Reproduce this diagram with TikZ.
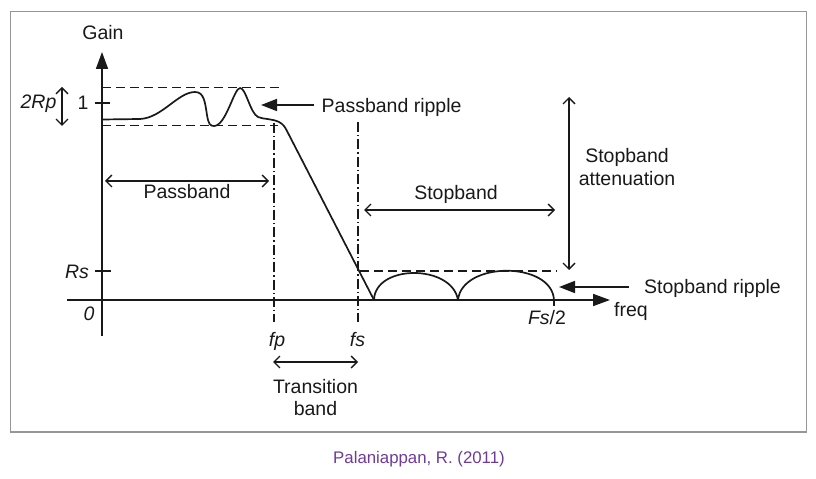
\documentclass[tikz,border=0pt]{standalone}
\usepackage{fontspec}
\setmainfont{Liberation Sans}
\usetikzlibrary{arrows.meta}
\definecolor{capcol}{RGB}{112,58,152}
\definecolor{framecol}{RGB}{150,150,150}
\definecolor{ink}{RGB}{25,25,25}
\begin{document}
\begin{tikzpicture}[x=1bp,y=-1bp,
  every node/.style={inner sep=0pt, text=ink, font=\fontsize{19.5bp}{22.5bp}\selectfont},
  axisline/.style={draw=ink, line width=1.7bp, -{Triangle[length=17bp,width=12bp]}},
  ptr/.style={draw=ink, line width=1.7bp, -{Triangle[length=16bp,width=12bp]}},
  dbl/.style={draw=ink, line width=1.4bp, {Straight Barb[length=6bp,width=12bp]}-{Straight Barb[length=6bp,width=12bp]}},
  dsh/.style={draw=ink, line width=1.7bp, dash pattern=on 9bp off 5bp},
  ddot/.style={draw=ink, line width=1.4bp, dash pattern=on 10bp off 3bp on 1.4bp off 3bp},
  curve/.style={draw=ink, line width=1.7bp, line join=round},
  tick/.style={draw=ink, line width=1.6bp},
  lbl/.style={anchor=base}
]
\useasboundingbox (0,0) rectangle (816,479);
\draw[framecol, line width=1.5bp] (10.5,11.5) rectangle (806.5,432);

% axes
\coordinate (yb) at (102,336); \coordinate (yt) at (102,52);
\coordinate (xl) at (67,300);  \coordinate (xr) at (610,300);
\draw[axisline] (yb) -- (yt);
\draw[axisline] (xl) -- (xr);
\node[lbl] (gain) at (103,39.5) {Gain};
\node[anchor=base west] (freq) at (614,317) {freq};
\node[lbl] (zero) at (89,320.5) {\itshape 0};

% ticks
\coordinate (t1a) at (95,103); \coordinate (t1b) at (110,103);
\draw[tick] (t1a) -- (t1b);
\node[lbl] (one) at (83,109.5) {1};
\coordinate (tra) at (95,271); \coordinate (trb) at (111,271);
\draw[tick] (tra) -- (trb);
\node[lbl] (rs) at (77,278.3) {\itshape Rs};
\coordinate (tfa) at (554,300); \coordinate (tfb) at (554,306);
\draw[tick] (tfa) -- (tfb);
\node[lbl] (fs2) at (547,325) {\itshape Fs\/\upshape/2};

% 2Rp
\coordinate (rpa) at (62,87); \coordinate (rpb) at (62,126);
\draw[dbl] (rpa) -- (rpb);
\node[lbl] (tworp) at (38.5,108.5) {\itshape 2Rp};

% dashed ripple bounds
\coordinate (d1a) at (102,87.5); \coordinate (d1b) at (281,87.5);
\draw[dsh] (d1a) -- (d1b);
\coordinate (d2a) at (102,125.5); \coordinate (d2b) at (278,125.5);
\draw[dsh] (d2a) -- (d2b);
\coordinate (d3a) at (360,271); \coordinate (d3b) at (557,271);
\draw[dsh] (d3a) -- (d3b);

% fp and fs lines
\coordinate (fpa) at (274,123); \coordinate (fpb) at (274,322);
\draw[ddot] (fpa) -- (fpb);
\coordinate (fsa) at (358,122); \coordinate (fsb) at (358,322);
\draw[ddot] (fsa) -- (fsb);
\node[lbl] (fp) at (277,346.5) {\itshape fp};
\node[lbl] (fs) at (357.5,346.5) {\itshape fs};

% response curve
\draw[curve] (102,119.5) -- (140,119)
  .. controls (162,118) and (178,92) .. (195,92)
  .. controls (204,92) and (205,102) .. (207,115)
  .. controls (208.5,124) and (210,126) .. (214,126)
  .. controls (226,126) and (234,88) .. (240,88)
  .. controls (246,88) and (250,113) .. (258,117)
  .. controls (264,119.5) and (272,118.5) .. (279,122)
  .. controls (283,124) and (285,127) .. (287,131)
  -- (374,300);
\draw[curve] (374,300) .. controls (375,264) and (452,264) .. (458,300)
  .. controls (462,261) and (552,261) .. (554,300);

% band arrows
\coordinate (pba) at (105,181); \coordinate (pbb) at (269,181);
\draw[dbl] (pba) -- (pbb);
\node[lbl] (passband) at (187,199) {Passband};
\coordinate (sba) at (364,210); \coordinate (sbb) at (555,210);
\draw[dbl] (sba) -- (sbb);
\node[lbl] (stopband) at (456,199.5) {Stopband};
\coordinate (tba) at (273,362); \coordinate (tbb) at (358,362);
\draw[dbl] (tba) -- (tbb);
\node[lbl] (trans1) at (315.5,393.3) {Transition};
\node[lbl] (trans2) at (315.5,415.8) {band};
\coordinate (saa) at (569,97); \coordinate (sab) at (569,270);
\draw[dbl] (saa) -- (sab);
\node[lbl] (sat1) at (627,163) {Stopband};
\node[lbl] (sat2) at (627,185.5) {attenuation};

% ripple pointers
\coordinate (prs) at (314,105); \coordinate (prt) at (261,105);
\draw[ptr] (prs) -- (prt);
\node[anchor=base west] (pripple) at (321.5,113) {Passband ripple};
\coordinate (srs) at (629,287); \coordinate (srt) at (559,287);
\draw[ptr] (srs) -- (srt);
\node[anchor=base west] (sripple) at (644,294) {Stopband ripple};

% caption
\node[lbl, text=capcol, font=\fontsize{16.8bp}{20bp}\selectfont] (cap) at (419,463.5) {Palaniappan, R. (2011)};
\end{tikzpicture}
\end{document}
